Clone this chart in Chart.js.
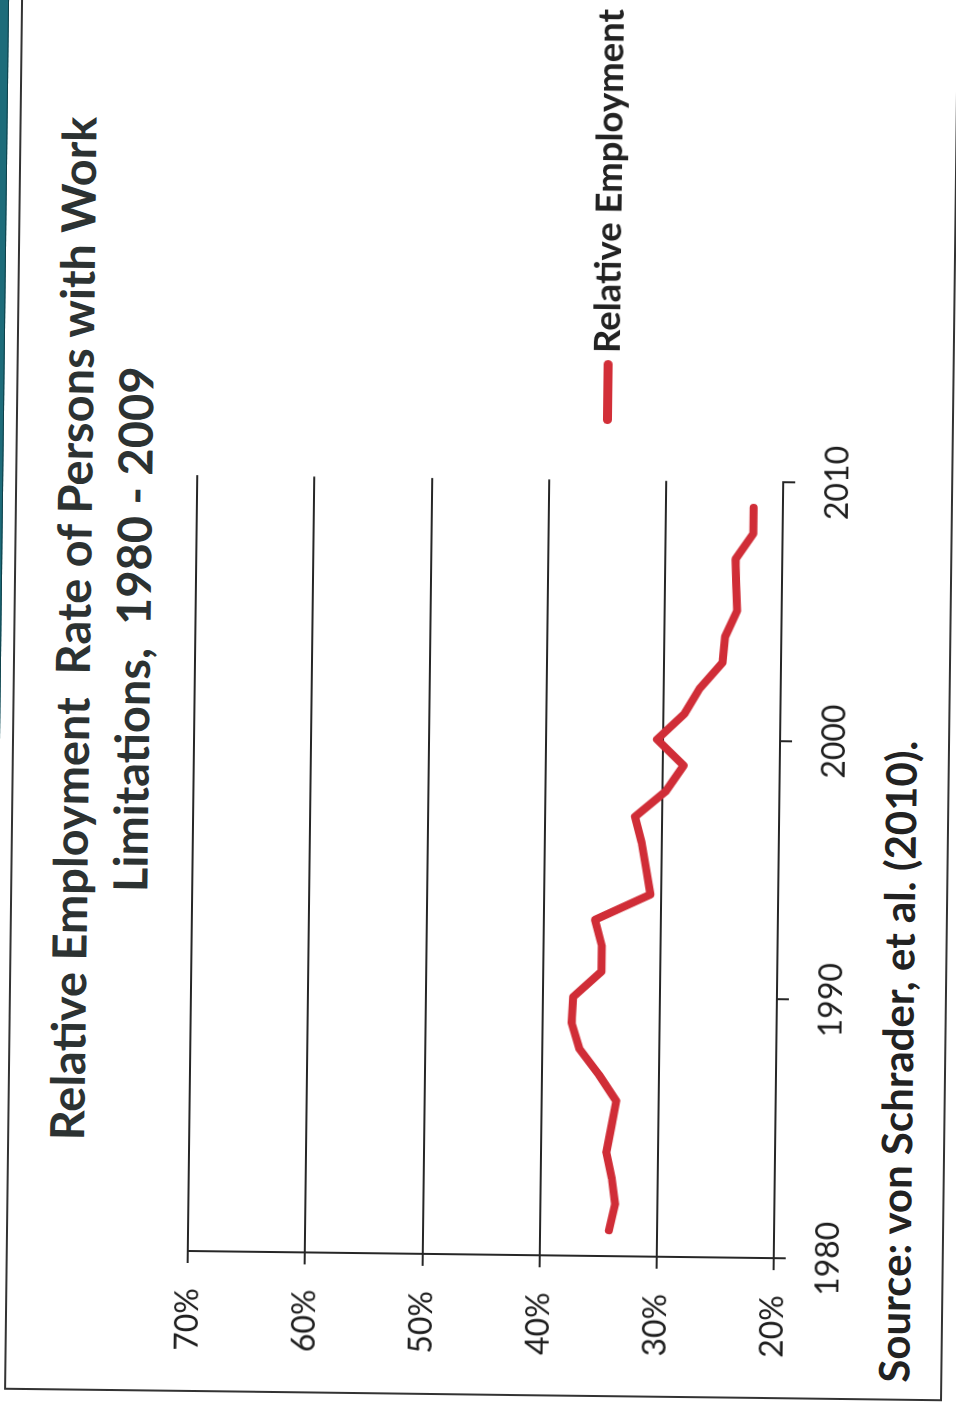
<!DOCTYPE html>
<html>
<head>
<meta charset="utf-8">
<script src="https://cdn.jsdelivr.net/npm/chart.js@4.4.0/dist/chart.umd.min.js"></script>
<style>
  html, body { margin: 0; padding: 0; width: 956px; height: 1405px; overflow: hidden; background: #fff; }
  /* the scanned page is turned on its side, so the whole chart is built flat and rotated */
  #page {
    position: absolute; left: -224.5px; top: 224.5px; width: 1405px; height: 956px;
    transform: rotate(-89.3deg); transform-origin: 50% 50%;
    font-family: Lato, "Open Sans", sans-serif; background: #fff;
  }
  #strip { position: absolute; left: -20px; top: -14px; width: 1460px; height: 13px; background: #1d6c7a; border-bottom: 1px solid #0e3f48; }
  #frame { position: absolute; left: 10px; top: 12px; width: 1440px; height: 938px; border: 2px solid #333; box-sizing: border-box; }
  #title {
    position: absolute; left: 72px; width: 1400px; top: 41px; text-align: center;
    font-weight: bold; font-size: 47px; line-height: 60px; color: #2c3232; white-space: pre;
  }
  #source { position: absolute; left: 28px; top: 880px; font-weight: bold; font-size: 42px; line-height: 1; color: #222; white-space: pre; }
  #legend-line { position: absolute; left: 983px; top: 599px; width: 64px; height: 9px; border-radius: 5px; background: #d22f38; }
  #legend-text { position: absolute; left: 1054px; top: 583px; font-weight: bold; font-size: 36.5px; line-height: 1; color: #222; white-space: pre; }
  #chart { position: absolute; left: 10px; top: 150px; }
</style>
</head>
<body>
<div id="page">
  <div id="strip"></div>
  <div id="frame"></div>
  <div id="title">Relative Employment  Rate of Persons with Work
Limitations,  1980 - 2009</div>
  <canvas id="chart" width="977" height="710"></canvas>
  <div id="legend-line"></div>
  <div id="legend-text">Relative Employment</div>
  <div id="source">Source: von Schrader, et al. (2010).</div>
</div>
<script>
const years = [1981, 1982, 1983, 1984, 1985, 1986, 1987, 1988, 1989, 1990,
  1991, 1992, 1993, 1994, 1995, 1996, 1997, 1998, 1999, 2000,
  2001, 2002, 2003, 2004, 2005, 2006, 2007, 2008, 2009];
const relativeEmployment = [34.1, 33.6, 33.9, 34.4, 34.0, 33.6, 35.1, 36.8, 37.5, 37.4,
  35.0, 35.0, 35.6, 30.9, 31.3, 31.7, 32.3, 29.7, 28.2, 30.5,
  28.2, 26.9, 25.0, 24.8, 23.8, 23.9, 24.0, 22.5, 22.5];
const yearTicks = [1980, 1990, 2000, 2010];
const percentTicks = [20, 30, 40, 50, 60, 70];

const lineRed = '#d02d37';
const axisColor = '#262626';
const tickFont = { family: 'Lato', size: 32 };

new Chart(document.getElementById('chart'), {
  type: 'line',
  data: {
    datasets: [{
      label: 'Relative Employment',
      data: years.map((yr, i) => ({ x: yr, y: relativeEmployment[i] })),
      borderColor: lineRed,
      borderWidth: 8,
      pointRadius: 0,
      tension: 0,
      fill: false,
      borderJoinStyle: 'round',
      borderCapStyle: 'round'
    }]
  },
  options: {
    responsive: false,
    animation: false,
    devicePixelRatio: 1,
    layout: { padding: { left: 0, right: 45, top: 38, bottom: 0 } },
    plugins: { legend: { display: false }, title: { display: false }, tooltip: { enabled: false } },
    scales: {
      x: {
        type: 'linear',
        min: yearTicks[0],
        max: yearTicks[yearTicks.length - 1],
        afterBuildTicks: s => { s.ticks = yearTicks.map(v => ({ value: v })); },
        ticks: { color: '#1e1e1e', font: tickFont, padding: 23, maxRotation: 0, callback: v => String(v) },
        grid: { drawOnChartArea: false, tickLength: 12, color: axisColor, lineWidth: 2 },
        border: { display: true, color: axisColor, width: 2 },
        afterFit: s => { s.height = 80; }
      },
      y: {
        min: percentTicks[0],
        max: percentTicks[percentTicks.length - 1],
        afterBuildTicks: s => { s.ticks = percentTicks.map(v => ({ value: v })); },
        ticks: { color: '#1e1e1e', font: tickFont, padding: 25, callback: v => v + '%' },
        grid: { tickLength: 12, color: axisColor, lineWidth: 2 },
        border: { display: true, color: axisColor, width: 2 },
        afterFit: s => { s.width = 141; }
      }
    }
  }
});
</script>
</body>
</html>
